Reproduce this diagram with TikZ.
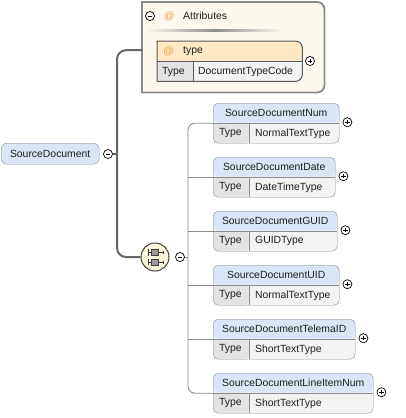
\documentclass[tikz,border=0pt]{standalone}
\usepackage{fontspec}
\setmainfont{Liberation Sans}
\usetikzlibrary{positioning,calc}
\definecolor{namefill}{HTML}{DAE6F8}
\definecolor{boxline}{HTML}{8C8C8C}
\definecolor{typecell}{HTML}{E3E3E3}
\definecolor{valcell}{HTML}{F3F3F3}
\definecolor{attrfill}{HTML}{FDF8EE}
\definecolor{attrline}{HTML}{8A8A8A}
\definecolor{attrhead}{HTML}{FFE8C4}
\definecolor{atsign}{HTML}{E8A33C}
\definecolor{trunkcol}{HTML}{666666}
\definecolor{seqfill}{HTML}{FAF6DC}
\definecolor{txt}{HTML}{1E1E1E}
\tikzset{
  elem/.style={draw=boxline, fill=valcell, rounded corners=5pt, minimum width=#1,
    minimum height=40pt, inner sep=0pt, anchor=north west,
    path picture={
      \fill[namefill] (path picture bounding box.north west) rectangle
        ([yshift=-19.5pt]path picture bounding box.north east);
      \fill[typecell] ([yshift=-19.5pt]path picture bounding box.north west) rectangle
        ([xshift=36pt]path picture bounding box.south west);
      \draw[boxline] ([yshift=-19.5pt]path picture bounding box.north west) --
        ([yshift=-19.5pt]path picture bounding box.north east);
      \draw[boxline] ([xshift=36pt,yshift=-19.5pt]path picture bounding box.north west) --
        ([xshift=36pt]path picture bounding box.south west);
    }},
  lbl/.style={font=\fontsize{10.4}{12}\selectfont, text=txt, inner sep=0pt},
  btn/.style={circle, draw=black, line width=0.7pt, minimum size=9pt, inner sep=0pt, fill=white},
  plusbtn/.style={btn, path picture={
      \draw[line width=0.6pt] ([xshift=-2.2pt]path picture bounding box.center) -- ([xshift=2.2pt]path picture bounding box.center);
      \draw[line width=0.6pt] ([yshift=-2.2pt]path picture bounding box.center) -- ([yshift=2.2pt]path picture bounding box.center);}},
  minusbtn/.style={btn, path picture={
      \draw[line width=0.6pt] ([xshift=-2.2pt]path picture bounding box.center) -- ([xshift=2.2pt]path picture bounding box.center);}},
  trunk/.style={draw=trunkcol, line width=2pt},
  bus/.style={draw=boxline, line width=0.9pt},
  seqnode/.style={circle, draw=black!75, line width=1pt, fill=seqfill, minimum size=28pt, inner sep=0pt},
}
\begin{document}
\begin{tikzpicture}[x=1pt, y=-1pt]
  \useasboundingbox (0,0) rectangle (405,418);

  % attributes group
  \node[minimum width=182pt, minimum height=90pt, anchor=north west, inner sep=0pt] (attrs) at (142,2) {};
  \draw[attrline, line width=1.8pt, fill=attrfill] (attrs.south west) -- (attrs.north west)
    [rounded corners=7pt] -- (attrs.north east) -- (attrs.south east) [sharp corners] -- (attrs.south west) -- cycle;
  \node[minusbtn] (attrminus) at (150,16) {};
  \node[lbl, text=atsign, anchor=west] (attrat) at (164,16) {@};
  \node[lbl, anchor=west] (attrtitle) at (183,16) {Attributes};
  \shade[left color=attrfill, right color=attrfill, middle color=black!45] (147,29.3) rectangle (282,31);

  % attribute "type"
  \node[minimum width=145pt, minimum height=40pt, anchor=north west, inner sep=0pt] (typeattr) at (157,41) {};
  \begin{scope}
    \clip (typeattr.south west) -- (typeattr.north west) [rounded corners=7pt] -- (typeattr.north east)
      -- (typeattr.south east) [sharp corners] -- (typeattr.south west) -- cycle;
    \fill[valcell] (typeattr.north west) rectangle (typeattr.south east);
    \fill[attrhead] (typeattr.north west) rectangle (302,61.5);
    \fill[typecell] (157,61.5) rectangle (193,81);
  \end{scope}
  \draw[black!65, line width=1pt] (typeattr.south west) -- (typeattr.north west) [rounded corners=7pt] -- (typeattr.north east)
    -- (typeattr.south east) [sharp corners] -- (typeattr.south west) -- cycle;
  \draw[black!65] (157,61.5) -- (302,61.5);
  \draw[black!65] (193,61.5) -- (193,81);
  \node[lbl, text=atsign, anchor=west] (typeat) at (163,51.5) {@};
  \node[lbl, anchor=west] (typename) at (183,51.5) {type};
  \node[lbl, anchor=west] (typekey) at (162,72) {Type};
  \node[lbl, anchor=west] (typeval) at (198,72) {DocumentTypeCode};
  \node[plusbtn] (typeplus) at (310,61) {};

  % root element
  \node[draw=boxline, fill=namefill, rounded corners=6pt, minimum width=98pt, minimum height=21pt,
        anchor=north west, inner sep=0pt] (root) at (1,143) {};
  \node[lbl] (rootlbl) at (root.center) {SourceDocument};
  \node[minusbtn] (rootminus) at (108,154) {};
  \coordinate (trunkjoin) at (117,154);

  % sequence compositor
  \node[seqnode] (seq) at (155,257) {};
  \begin{scope}[shift={(seq.center)}]
    \draw[black!80, line width=0.7pt] (-7,-8) -- (-7,-1.5) (-7,1.5) -- (-7,8);
    \draw[black!80, line width=0.7pt] (-7,-5) -- (8,-5) (-7,5) -- (8,5);
    \draw[black!80, line width=0.7pt] (8,-6.5) -- (8,-3.5) (8,3.5) -- (8,6.5);
    \filldraw[fill=black!40, draw=black!75, line width=0.6pt] (-3.5,-8) rectangle (3.5,-2);
    \filldraw[fill=black!40, draw=black!75, line width=0.6pt] (-3.5,2) rectangle (3.5,8);
  \end{scope}
  \node[minusbtn] (seqminus) at (180,257) {};

  % trunk connectors
  \draw[trunk] (rootminus.east) -- (trunkjoin);
  \draw[trunk, rounded corners=9pt] ([yshift=-3pt]attrs.west) -- ++(-25,0) |- (seq.west);

  % child elements
  \foreach \id/\ytop/\bw/\nm/\tp in {
      num/103/126/SourceDocumentNum/NormalTextType,
      date/157/122/SourceDocumentDate/DateTimeType,
      guid/211/124/SourceDocumentGUID/GUIDType,
      uid/265/126/SourceDocumentUID/NormalTextType,
      telema/319/142/SourceDocumentTelemaID/ShortTextType,
      lineitem/373/160/SourceDocumentLineItemNum/ShortTextType} {
    \node[elem=\bw] (\id) at (213,\ytop) {};
    \node[lbl] (\id-name) at ([yshift=-10pt]\id.north) {\nm};
    \node[lbl, anchor=west] (\id-key) at ([xshift=6pt,yshift=10pt]\id.south west) {Type};
    \node[lbl, anchor=west] (\id-val) at ([xshift=42pt,yshift=10pt]\id.south west) {\tp};
    \node[plusbtn] (\id-plus) at ([xshift=8pt,yshift=1pt]\id.east) {};
  }

  % child connectors
  \coordinate (busx) at ([xshift=-25pt]num.west);
  \draw[bus, rounded corners=7pt] (num.west) -- (busx) -- ([xshift=-25pt]lineitem.west) -- (lineitem.west);
  \foreach \id in {date,guid,uid,telema}
    \draw[bus] (\id.west) -- ++(-25,0);
  \draw[bus] (seqminus.east) -- (seqminus.east -| busx);
\end{tikzpicture}
\end{document}
